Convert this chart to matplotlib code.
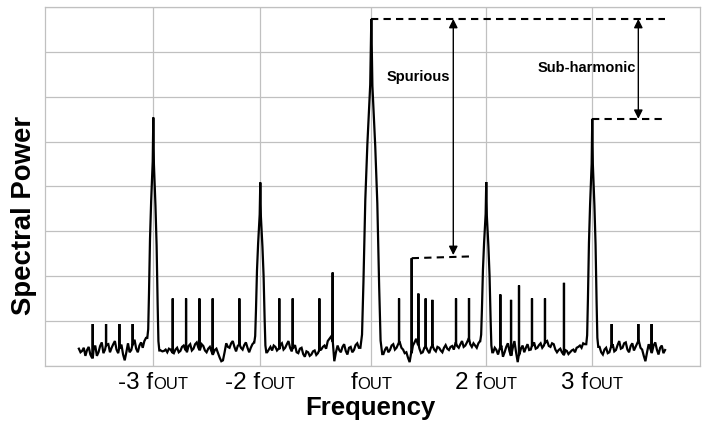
import numpy as np
import matplotlib
matplotlib.use("Agg")
import matplotlib.pyplot as plt
from matplotlib.offsetbox import TextArea, HPacker, AnnotationBbox

plt.rcParams['font.family'] = ['Liberation Sans', 'DejaVu Sans']

# ---------------- data ----------------
tick_prefixes = ["-3 f", "-2 f", "f", "2 f", "3 f"]
tick_suffix = "OUT"
carrier_freqs = [0.992, 1.972, 2.989, 4.042, 5.013]
carrier_powers = [5.54, 4.09, 7.74, 4.10, 5.51]
carrier_halfwidths = [0.055, 0.055, 0.10, 0.055, 0.055]
profile_offsets = [-1.0, -0.85, -0.72, -0.55, -0.36, -0.1, 0.0, 0.1, 0.36, 0.55, 0.72, 0.85, 1.0]
profile_levels = [0.0, 0.04, 0.2, 0.45, 0.62, 0.80, 1.0, 0.80, 0.62, 0.45, 0.2, 0.04, 0.0]

spur_freqs = [0.437, 0.559, 0.681, 0.803,
              1.170, 1.292, 1.414, 1.536, 1.780,
              2.146, 2.269, 2.513, 2.635,
              3.243, 3.359, 3.420, 3.487, 3.548, 3.765, 3.884,
              4.171, 4.269, 4.342, 4.461, 4.580, 4.754,
              5.191, 5.435, 5.557]
spur_powers = [0.93, 0.93, 0.93, 0.93,
               1.50, 1.50, 1.50, 1.50, 1.50,
               1.50, 1.50, 1.50, 2.08,
               1.50, 2.40, 1.61, 1.50, 1.47, 1.50, 1.51,
               1.59, 1.47, 1.79, 1.50, 1.50, 1.85,
               0.93, 0.93, 0.93]

# noise floor read at two interleaved frequency grids
noise_start = 0.31
noise_step = 0.03
noise_floor = [
    0.38, 0.33, 0.22, 0.42, 0.18, 0.45, 0.30, 0.52, 0.36, 0.48,
    0.40, 0.55, 0.28, 0.47, 0.12, 0.50, 0.35, 0.58, 0.30, 0.52,
    0.55, 0.60, 0.50, 0.50, 0.40, 0.34, 0.33, 0.30, 0.36, 0.28,
    0.40, 0.33, 0.45, 0.30, 0.48, 0.38, 0.52, 0.36, 0.44, 0.30,
    0.42, 0.26, 0.38, 0.18, 0.12, 0.50, 0.40, 0.55, 0.32, 0.48,
    0.36, 0.52, 0.30, 0.48, 0.50, 0.50, 0.50, 0.50, 0.36, 0.34,
    0.42, 0.38, 0.50, 0.40, 0.55, 0.32, 0.46, 0.28, 0.40, 0.20,
    0.30, 0.25, 0.34, 0.28, 0.36, 0.45, 0.55, 0.65, 0.10, 0.45,
    0.30, 0.48, 0.25, 0.42, 0.35, 0.50, 0.38, 0.50, 0.50, 0.50,
    0.50, 0.50, 0.50, 0.26, 0.42, 0.35, 0.48, 0.40, 0.52, 0.36,
    0.30, 0.08, 0.45, 0.60, 0.38, 0.30, 0.42, 0.28, 0.45, 0.32,
    0.40, 0.30, 0.46, 0.35, 0.44, 0.50, 0.40, 0.55, 0.45, 0.60,
    0.42, 0.45, 0.50, 0.50, 0.50, 0.50, 0.50, 0.40, 0.25, 0.45,
    0.30, 0.50, 0.22, 0.55, 0.08, 0.38, 0.30, 0.48, 0.36, 0.52,
    0.40, 0.50, 0.45, 0.55, 0.42, 0.48, 0.30, 0.38, 0.25, 0.33,
    0.30, 0.36, 0.40, 0.45, 0.50, 0.50, 0.50, 0.50, 0.50, 0.42,
    0.25, 0.40, 0.30, 0.48, 0.35, 0.55, 0.40, 0.52, 0.30, 0.50,
    0.42, 0.55, 0.36, 0.10, 0.48, 0.30, 0.52, 0.25, 0.45, 0.35,
]
noise_mid_start = 0.325
noise_mid = [
    0.30, 0.40, 0.35, 0.25, 0.36, 0.22, 0.44, 0.28, 0.46, 0.30,
    0.48, 0.36, 0.40, 0.25, 0.30, 0.30, 0.48, 0.38, 0.45, 0.40,
    0.62, 0.50, 0.50, 0.50, 0.50, 0.32, 0.36, 0.38, 0.30, 0.36,
    0.30, 0.42, 0.36, 0.44, 0.34, 0.48, 0.40, 0.48, 0.34, 0.38,
    0.32, 0.35, 0.28, 0.10, 0.30, 0.42, 0.50, 0.42, 0.44, 0.40,
    0.46, 0.40, 0.40, 0.52, 0.50, 0.50, 0.50, 0.30, 0.42, 0.45,
    0.34, 0.46, 0.36, 0.48, 0.40, 0.40, 0.30, 0.38, 0.26, 0.32,
    0.22, 0.32, 0.24, 0.35, 0.42, 0.38, 0.60, 0.55, 0.30, 0.35,
    0.42, 0.33, 0.40, 0.30, 0.46, 0.40, 0.45, 0.50, 0.50, 0.50,
    0.50, 0.50, 0.50, 0.36, 0.30, 0.45, 0.36, 0.48, 0.40, 0.28,
    0.18, 0.30, 0.52, 0.48, 0.28, 0.40, 0.34, 0.40, 0.36, 0.42,
    0.34, 0.40, 0.38, 0.42, 0.36, 0.44, 0.48, 0.42, 0.52, 0.48,
    0.50, 0.40, 0.55, 0.50, 0.50, 0.50, 0.30, 0.35, 0.38, 0.20,
    0.42, 0.32, 0.40, 0.30, 0.25, 0.45, 0.40, 0.35, 0.45, 0.38,
    0.46, 0.40, 0.52, 0.44, 0.50, 0.36, 0.35, 0.30, 0.35, 0.26,
    0.34, 0.30, 0.42, 0.40, 0.48, 0.50, 0.50, 0.50, 0.50, 0.30,
    0.36, 0.28, 0.42, 0.32, 0.46, 0.38, 0.50, 0.36, 0.44, 0.34,
    0.50, 0.40, 0.22, 0.30, 0.38, 0.45, 0.36, 0.40, 0.28,
]

# ---------------- build trace ----------------
nx = np.concatenate([noise_start + noise_step * np.arange(len(noise_floor)),
                     noise_mid_start + noise_step * np.arange(len(noise_mid))])
ny = np.concatenate([noise_floor, noise_mid])
o0 = np.argsort(nx)
nx, ny = nx[o0], ny[o0]
keep = np.ones(len(nx), dtype=bool)
px, py = [], []
for f, p, w in zip(carrier_freqs, carrier_powers, carrier_halfwidths):
    keep &= ~(np.abs(nx - f) < w)
    left = ny[np.where(nx < f - w)[0][-1]]
    right = ny[np.where(nx > f + w)[0][0]]
    for o, l in zip(profile_offsets, profile_levels):
        base = left if o < 0 else right
        px.append(f + o * w)
        py.append(base + l * (p - base))
for f, p in zip(spur_freqs, spur_powers):
    b = ny[np.argmin(np.abs(nx - f))]
    px += [f - 0.0008, f, f + 0.0008]
    py += [b, p, b]
allx = np.concatenate([nx[keep], px])
ally = np.concatenate([ny[keep], py])
order = np.argsort(allx, kind="stable")
allx, ally = allx[order], ally[order]

# ---------------- figure ----------------
fig = plt.figure(figsize=(7.09, 4.27), dpi=100)
ax = fig.add_axes([0.0635, 0.1412, 0.9238, 0.8394])
ax.set_xlim(0, 6)
ax.set_ylim(0, 8)
ax.set_xticks(carrier_freqs)
ax.set_xticklabels([])
ax.set_yticks(range(0, 9))
ax.set_yticklabels([])
ax.tick_params(length=0)
ax.grid(True, color="#c0c0c0", lw=0.9)
ax.set_axisbelow(True)
for s in ax.spines.values():
    s.set_color("#c0c0c0")
    s.set_linewidth(0.9)

ax.plot(allx, ally, color="black", lw=1.6, solid_joinstyle="miter")

# dashed reference lines
dash = (0, (3.5, 2.5))
ax.plot([carrier_freqs[2], 5.68], [carrier_powers[2]] * 2, color="black", lw=1.5, ls=dash)
ax.plot([carrier_freqs[4], 5.68], [carrier_powers[4]] * 2, color="black", lw=1.5, ls=dash)
ax.plot([spur_freqs[14], 3.91], [spur_powers[14], 2.44], color="black", lw=1.5, ls=dash)

# arrows
ap = dict(arrowstyle="<|-|>", mutation_scale=13, lw=1.0, color="black", shrinkA=0, shrinkB=0)
ax.annotate("", xy=(3.74, carrier_powers[2]), xytext=(3.74, 2.47), arrowprops=ap)
ax.annotate("", xy=(5.435, carrier_powers[2]), xytext=(5.435, carrier_powers[4]), arrowprops=ap)

ax.text(3.417, 6.47, "Spurious", fontsize=10.5, fontweight="bold", ha="center", va="center")
ax.text(4.96, 6.67, "Sub-harmonic", fontsize=10.5, fontweight="bold", ha="center", va="center")

# tick labels with small-caps style suffix
trans = ax.get_xaxis_transform()
for x, pre in zip(carrier_freqs, tick_prefixes):
    box = HPacker(children=[TextArea(pre, textprops=dict(size=17.5)),
                            TextArea(tick_suffix, textprops=dict(size=12))],
                  align="baseline", pad=0, sep=0)
    ab = AnnotationBbox(box, (x, 0), xycoords=trans, xybox=(0, -4),
                        boxcoords="offset points", box_alignment=(0.5, 1.0),
                        frameon=False, pad=0, annotation_clip=False)
    ax.add_artist(ab)

ax.set_xlabel("Frequency", fontsize=18.5, fontweight="bold")
ax.xaxis.set_label_coords(0.496, -0.082)
ax.set_ylabel("Spectral Power", fontsize=19.8, fontweight="bold")
ax.yaxis.set_label_coords(-0.013, 0.423)

fig.savefig("out.png", dpi=100)
